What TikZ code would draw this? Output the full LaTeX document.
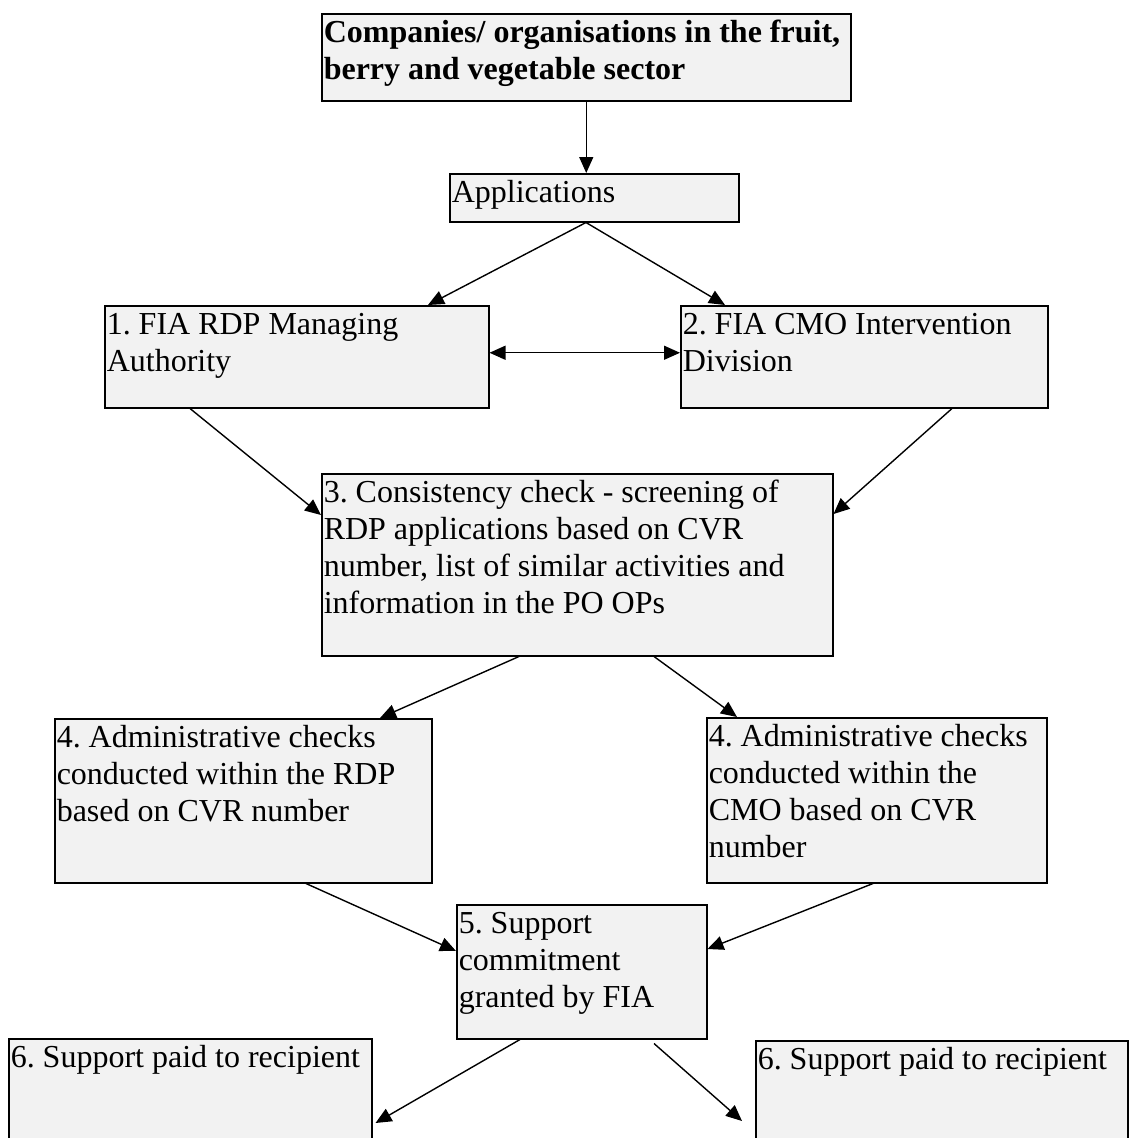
\documentclass[tikz,border=0pt]{standalone}
\usepackage{fontspec}
\setmainfont{Liberation Serif}
\usetikzlibrary{arrows.meta,calc}
\definecolor{boxfill}{HTML}{F2F2F2}
\tikzset{
  box/.style={draw=black, fill=boxfill, line width=1.5pt, inner sep=0pt, anchor=north west,
    font=\fontsize{32}{37}\selectfont},
  arr/.style={line width=1.4pt, -{Triangle[length=16pt,width=14pt]}},
  arrboth/.style={line width=1.4pt, {Triangle[length=16pt,width=14pt]}-{Triangle[length=16pt,width=14pt]}},
}
\newcommand\bxnode[6]{%
  \node[box, minimum width={(#4-#2)*1pt}, minimum height={(#5-#3)*1pt}] (#1) at (#2,#3)
  {\hspace*{2pt}\begin{minipage}[t][\dimexpr #5pt-#3pt\relax][t]{\dimexpr #4pt-#2pt-2pt\relax}\frenchspacing\raggedright\rule{0pt}{29pt}#6\end{minipage}};}
\begin{document}
\frenchspacing
\begin{tikzpicture}[x=1pt,y=-1pt]
\useasboundingbox (0,0) rectangle (1128,1138);
\bxnode{A}{321}{13}{850}{100}{\textbf{Companies/ organisations in the fruit,\\ berry and vegetable sector}}
\bxnode{app}{449}{173}{738}{221}{Applications}
\bxnode{b1}{104}{305}{488}{407}{1. FIA RDP Managing\\ Authority}
\bxnode{b2}{680}{305}{1047}{407}{2. FIA CMO Intervention\\ Division}
\bxnode{b3}{321}{473}{832}{655}{3. Consistency check - screening of\\ RDP applications based on CVR\\ number, list of similar activities and\\ information in the PO OPs}
\bxnode{b4l}{54}{718}{431}{882}{4. Administrative checks\\ conducted within the RDP\\ based on CVR number}
\bxnode{b4r}{706}{717}{1046}{882}{4. Administrative checks\\ conducted within the\\ CMO based on CVR\\ number}
\bxnode{b5}{456}{904}{706}{1038}{5. Support\\ commitment\\ granted by FIA}
\bxnode{b6l}{8}{1038}{371}{1170}{6. Support paid to recipient}
\bxnode{b6r}{755}{1040}{1127}{1170}{6. Support paid to recipient}

\draw[arr] (A.south) -- (A.south |- app.north);
\draw[arr] ($(app.south west)+(137,0)$) -- ($(b1.north west)+(324,0)$);
\draw[arr] ($(app.south west)+(137,0)$) -- ($(b2.north west)+(45,0)$);
\draw[arrboth] ($(b1.east)+(0,-4)$) -- ($(b2.west)+(0,-4)$);
\draw[arr] ($(b1.south west)+(86,0)$) -- ($(b3.north west)+(0,42)$);
\draw[arr] ($(b2.south west)+(272,0)$) -- ($(b3.north east)+(0,41)$);
\draw[arr] ($(b3.south west)+(198,0)$) -- ($(b4l.north west)+(326,0)$);
\draw[arr] ($(b3.south west)+(333,0)$) -- ($(b4r.north west)+(31,0)$);
\draw[arr] ($(b4l.south west)+(252,0)$) -- ($(b5.north west)+(0,47)$);
\draw[arr] ($(b4r.south west)+(167,0)$) -- ($(b5.north east)+(0,45)$);
\draw[arr] ($(b5.south west)+(64,0)$) -- ($(b6l.north east)+(3,85)$);
\draw[arr] ($(b5.south west)+(198,4)$) -- ($(b6r.north west)+(-13,81)$);
\end{tikzpicture}
\end{document}
